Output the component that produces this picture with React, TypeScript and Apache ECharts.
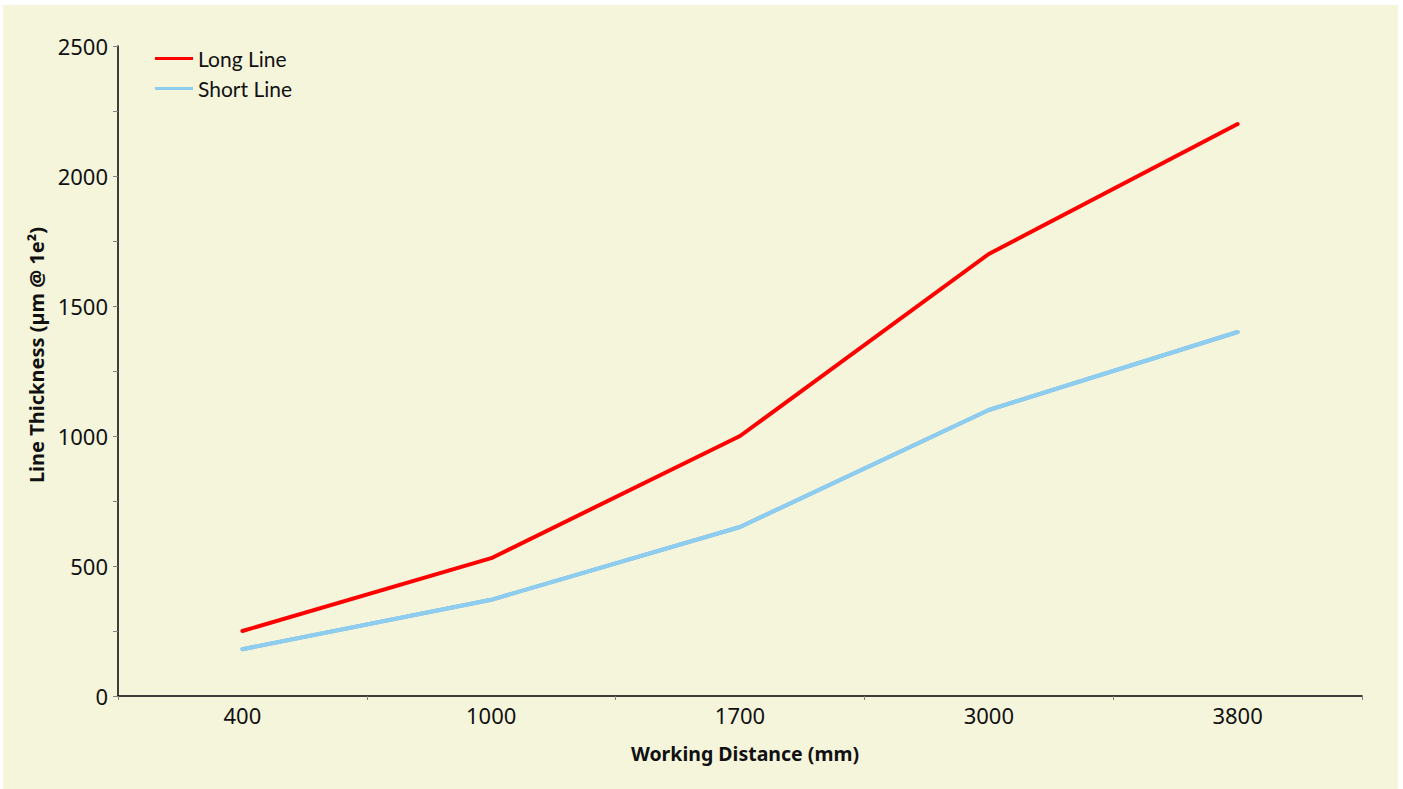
import React, { useEffect, useRef } from "react";
import * as echarts from "echarts";

const categories = ["400", "1000", "1700", "3000", "3800"];
const longLine = [250, 530, 1000, 1700, 2200];
const shortLine = [180, 370, 650, 1100, 1400];
const seriesNames = ["Long Line", "Short Line"];
const xTitle = "Working Distance (mm)";
const yTitle = "Line Thickness (µm @ 1e²)";

export default function App() {
  const ref = useRef<HTMLDivElement>(null);
  useEffect(() => {
    document.body.style.margin = "0";
    const chart = echarts.init(ref.current!, null, { renderer: "svg" });
    chart.setOption({
      animation: false,
      backgroundColor: "#ffffff",
      graphic: [
        {
          type: "rect",
          silent: true,
          z: -10,
          shape: { x: 3, y: 5, width: 1395, height: 784 },
          style: { fill: "#F5F5DC" },
        },
      ],
      legend: {
        left: 150,
        top: 42,
        orient: "vertical",
        icon: "rect",
        itemWidth: 38,
        itemHeight: 3,
        itemGap: 7,
        textStyle: { fontFamily: "Lato", fontSize: 21, color: "#111", lineHeight: 23 },
        data: seriesNames,
      },
      grid: { left: 118, top: 46, right: 41, bottom: 93, containLabel: false },
      xAxis: {
        type: "category",
        data: categories,
        boundaryGap: true,
        name: xTitle,
        nameLocation: "middle",
        nameGap: 47,
        nameTextStyle: { fontFamily: "Noto Sans", fontSize: 19.5, fontWeight: "bold", color: "#111", padding: [0, 0, 0, 10] },
        axisLine: { lineStyle: { color: "#000", width: 1.5 } },
        axisTick: { show: true, length: 4, lineStyle: { color: "#808080" }, alignWithLabel: false },
        axisLabel: { fontFamily: "Noto Sans", fontSize: 22, color: "#111", margin: 8 },
        splitLine: { show: false },
      },
      yAxis: {
        type: "value",
        min: 0,
        max: 2500,
        interval: 250,
        name: yTitle,
        nameLocation: "middle",
        nameGap: 72,
        nameTextStyle: { fontFamily: "Noto Sans", fontSize: 20, fontWeight: "bold", color: "#111", padding: [0, 0, 0, 32] },
        axisLine: { show: true, lineStyle: { color: "#000", width: 1.5 } },
        axisTick: { show: true, length: 5, lineStyle: { color: "#808080" } },
        axisLabel: {
          fontFamily: "Noto Sans",
          fontSize: 22,
          color: "#111",
          margin: 10,
          formatter: (v: number) => (v % 500 === 0 ? String(v) : ""),
        },
        splitLine: { show: false },
      },
      series: [
        {
          name: seriesNames[0],
          type: "line",
          data: longLine,
          symbol: "none",
          lineStyle: { color: "#FF0000", width: 4, cap: "round" },
          itemStyle: { color: "#FF0000" },
        },
        {
          name: seriesNames[1],
          type: "line",
          data: shortLine,
          symbol: "none",
          lineStyle: { color: "#8CCDF0", width: 4, cap: "round", shadowColor: "rgba(70,130,210,0.7)", shadowBlur: 1 },
          itemStyle: { color: "#8CCDF0" },
        },
      ],
    });
    return () => chart.dispose();
  }, []);
  return <div ref={ref} style={{ width: 1403, height: 789 }} />;
}
